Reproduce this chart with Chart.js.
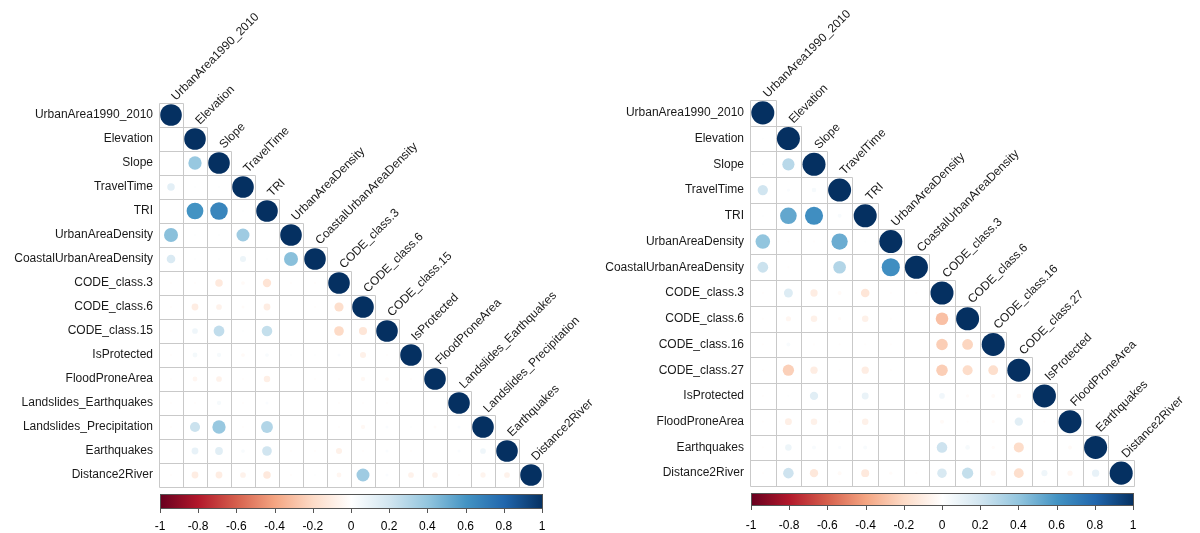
<!DOCTYPE html>
<html>
<head>
<meta charset="utf-8">
<script src="https://cdn.jsdelivr.net/npm/chart.js@4/dist/chart.umd.min.js"></script>
<style>
  html, body { margin: 0; padding: 0; background: #ffffff; }
  .panel { position: absolute; top: 0; height: 533px; }
  #leftPanel { left: 0; width: 600px; }
  #rightPanel { left: 600px; width: 600px; }
</style>
</head>
<body>
<div class="panel" id="leftPanel"><canvas id="leftChart"></canvas></div>
<div class="panel" id="rightPanel"><canvas id="rightChart"></canvas></div>
<script>
// Variables of the first correlation matrix (lower triangle, rows include the diagonal)
const leftVars = ["UrbanArea1990_2010", "Elevation", "Slope", "TravelTime", "TRI", "UrbanAreaDensity",
  "CoastalUrbanAreaDensity", "CODE_class.3", "CODE_class.6", "CODE_class.15", "IsProtected",
  "FloodProneArea", "Landslides_Earthquakes", "Landslides_Precipitation", "Earthquakes", "Distance2River"];

const leftCorr = [
  [1],
  [0.00, 1],
  [0.00, 0.38, 1],
  [0.12, 0.01, 0.01, 1],
  [0.00, 0.60, 0.66, 0.01, 1],
  [0.42, 0.01, 0.01, 0.36, 0.00, 1],
  [0.16, 0.01, 0.01, 0.08, 0.01, 0.42, 1],
  [-0.01, -0.01, -0.12, -0.03, -0.15, -0.01, -0.01, 1],
  [-0.01, -0.10, -0.07, -0.02, -0.10, 0.00, -0.01, -0.18, 1],
  [-0.01, 0.07, 0.25, 0.01, 0.24, 0.00, 0.00, -0.20, -0.14, 1],
  [-0.01, 0.05, 0.04, -0.03, 0.03, 0.01, 0.01, 0.02, -0.08, -0.01, 1],
  [-0.01, -0.05, -0.07, -0.01, -0.09, 0.00, -0.01, -0.01, -0.04, -0.03, -0.01, 1],
  [-0.01, -0.01, 0.04, -0.01, 0.02, 0.00, 0.00, -0.01, -0.01, -0.01, 0.00, 0.00, 1],
  [-0.01, 0.22, 0.38, -0.01, 0.30, 0.00, 0.00, -0.01, -0.04, 0.02, 0.01, -0.02, 0.02, 1],
  [-0.01, 0.10, 0.13, 0.03, 0.20, -0.01, -0.01, -0.08, -0.01, 0.02, -0.01, 0.00, 0.02, 0.07, 1],
  [-0.01, -0.10, -0.10, -0.07, -0.12, -0.01, 0.01, -0.05, 0.36, 0.02, -0.07, -0.07, -0.01, -0.06, -0.07, 1]
];

// Variables of the second correlation matrix
const rightVars = ["UrbanArea1990_2010", "Elevation", "Slope", "TravelTime", "TRI", "UrbanAreaDensity",
  "CoastalUrbanAreaDensity", "CODE_class.3", "CODE_class.6", "CODE_class.16", "CODE_class.27",
  "IsProtected", "FloodProneArea", "Earthquakes", "Distance2River"];

const rightCorr = [
  [1],
  [0.01, 1],
  [0.01, 0.28, 1],
  [0.20, 0.02, 0.04, 1],
  [0.01, 0.52, 0.62, 0.03, 1],
  [0.40, -0.01, -0.01, 0.50, 0.01, 1],
  [0.22, -0.01, 0.00, 0.30, 0.00, 0.62, 1],
  [-0.01, 0.15, -0.10, -0.03, -0.14, -0.01, -0.01, 1],
  [-0.01, -0.05, -0.08, -0.02, -0.08, -0.01, 0.00, -0.30, 1],
  [-0.01, 0.03, -0.01, -0.01, -0.01, -0.01, 0.00, -0.25, -0.22, 1],
  [-0.01, -0.24, -0.10, -0.01, -0.10, -0.01, 0.00, -0.25, -0.19, -0.18, 1],
  [-0.01, 0.01, 0.13, 0.00, 0.09, 0.00, 0.00, 0.06, -0.02, -0.03, -0.04, 1],
  [-0.01, -0.09, -0.08, -0.01, -0.08, 0.00, 0.00, -0.03, -0.01, -0.02, 0.13, -0.01, 1],
  [-0.01, 0.08, 0.03, 0.02, 0.03, 0.00, 0.00, 0.21, 0.04, -0.02, -0.19, 0.00, -0.03, 1],
  [-0.01, 0.21, -0.13, -0.03, -0.12, -0.02, -0.01, 0.17, 0.24, -0.05, -0.18, 0.07, -0.05, 0.10, 1]
];

// Colour bar tick values
const colorTicks = [-1, -0.8, -0.6, -0.4, -0.2, 0, 0.2, 0.4, 0.6, 0.8, 1];

// Diverging red-white-blue palette, stops spread evenly over [-1, 1]
const palette = ["#67001F", "#B2182B", "#D6604D", "#F4A582", "#FDDBC7", "#FFFFFF",
  "#D1E5F0", "#92C5DE", "#4393C3", "#2166AC", "#053061"];

const FONT = "'Liberation Sans', Arial, sans-serif";

function hexToRgb(h) {
  const n = parseInt(h.slice(1), 16);
  return [(n >> 16) & 255, (n >> 8) & 255, n & 255];
}
const paletteRgb = palette.map(hexToRgb);

function corrColor(v) {
  const t = (Math.max(-1, Math.min(1, v)) + 1) / 2 * (palette.length - 1);
  const i = Math.min(Math.floor(t), palette.length - 2);
  const f = t - i;
  const a = paletteRgb[i], b = paletteRgb[i + 1];
  const c = a.map((x, k) => Math.round(x + (b[k] - x) * f));
  return `rgb(${c[0]},${c[1]},${c[2]})`;
}

// One bubble per lower-triangle cell; circle area is proportional to |r|
function buildPoints(vars, corr, cellPx) {
  const pts = [];
  corr.forEach((row, i) => {
    row.forEach((v, j) => pts.push({
      x: vars[j], y: vars[i], v: v,
      r: 0.45 * cellPx * Math.sqrt(Math.abs(v))
    }));
  });
  return pts;
}

// Cell outlines of the lower triangle, drawn beneath the circles
const cellGrid = {
  id: 'cellGrid',
  beforeDatasetsDraw(chart) {
    const { ctx, scales: { x, y } } = chart;
    const n = chart.options.plugins.cellGrid.n;
    const cw = x.width / n, ch = y.height / n;
    const xe = [], ye = [];
    for (let k = 0; k <= n; k++) {
      xe.push(Math.round(x.getPixelForValue(0) - cw / 2 + k * cw) + 0.5);
      ye.push(Math.round(y.getPixelForValue(0) - ch / 2 + k * ch) + 0.5);
    }
    ctx.save();
    ctx.strokeStyle = '#c9c9c9';
    ctx.lineWidth = 1;
    ctx.beginPath();
    for (let k = 0; k <= n; k++) {
      // horizontal edge k closes the cells of rows k-1 and k (columns 0..k)
      ctx.moveTo(xe[0], ye[k]); ctx.lineTo(xe[Math.min(k + 1, n)], ye[k]);
      // vertical edge k bounds columns k-1 and k (rows k-1..n-1)
      ctx.moveTo(xe[k], ye[Math.max(k - 1, 0)]); ctx.lineTo(xe[k], ye[n]);
    }
    ctx.stroke();
    ctx.restore();
  }
};

// Rotated variable names along the diagonal, plus the colour bar legend
const diagAndBar = {
  id: 'diagAndBar',
  afterDraw(chart) {
    const { ctx, scales: { x, y }, chartArea } = chart;
    const opts = chart.options.plugins.diagAndBar;
    const vars = opts.labels;
    const n = vars.length;
    const ch = y.height / n;
    ctx.save();
    ctx.fillStyle = '#1a1a1a';
    ctx.font = `12px ${FONT}`;
    ctx.textAlign = 'left';
    ctx.textBaseline = 'alphabetic';
    vars.forEach((name, i) => {
      const cx = x.getPixelForValue(i);
      const top = y.getPixelForValue(i) - ch / 2;
      ctx.save();
      ctx.translate(cx + 5, top - 2);
      ctx.rotate(-Math.PI / 4);
      ctx.fillText(name, 0, 0);
      ctx.restore();
    });

    // colour bar
    const left = chartArea.left + 1, right = chartArea.right;
    const barTop = chartArea.bottom + opts.barGap;
    const barH = opts.barHeight;
    const grad = ctx.createLinearGradient(left, 0, right, 0);
    palette.forEach((c, k) => grad.addColorStop(k / (palette.length - 1), c));
    ctx.fillStyle = grad;
    ctx.fillRect(left, barTop, right - left, barH);
    ctx.strokeStyle = '#555';
    ctx.lineWidth = 1;
    ctx.strokeRect(left + 0.5, barTop + 0.5, right - left - 1, barH - 1);

    ctx.fillStyle = '#000';
    ctx.textAlign = 'center';
    ctx.textBaseline = 'middle';
    colorTicks.forEach(t => {
      const px = left + (t + 1) / 2 * (right - left - 1);
      ctx.beginPath();
      ctx.moveTo(Math.round(px) + 0.5, barTop + barH);
      ctx.lineTo(Math.round(px) + 0.5, barTop + barH + 4);
      ctx.stroke();
      ctx.fillText(String(t), px, barTop + barH + opts.labelGap);
    });
    ctx.restore();
  }
};

function makeCorrChart(canvasId, vars, corr, area) {
  const n = vars.length;
  return new Chart(document.getElementById(canvasId), {
    type: 'bubble',
    data: {
      datasets: [{
        data: buildPoints(vars, corr, area.width / n),
        borderWidth: 0,
        backgroundColor: c => corrColor(c.raw ? c.raw.v : 0),
        hoverRadius: 0
      }]
    },
    options: {
      responsive: true,
      maintainAspectRatio: false,
      animation: false,
      events: [],
      layout: { padding: { left: 0, top: area.top, right: area.right, bottom: area.bottom } },
      plugins: {
        legend: { display: false },
        tooltip: { enabled: false },
        cellGrid: { n: n },
        diagAndBar: { labels: vars, barGap: area.barGap, barHeight: area.barHeight, labelGap: area.labelGap }
      },
      scales: {
        x: { type: 'category', labels: vars, offset: true, display: false },
        y: {
          type: 'category',
          labels: vars,
          offset: true,
          grid: { display: false, drawTicks: false },
          border: { display: false },
          ticks: { color: '#1a1a1a', font: { family: FONT, size: 12 }, padding: 6, autoSkip: false },
          afterFit: s => { s.width = area.left; }
        }
      }
    },
    plugins: [cellGrid, diagAndBar]
  });
}

makeCorrChart('leftChart', leftVars, leftCorr,
  { left: 159, width: 384, top: 103, right: 57, bottom: 46, barGap: 7, barHeight: 15, labelGap: 18 });
makeCorrChart('rightChart', rightVars, rightCorr,
  { left: 150, width: 384, top: 100, right: 66, bottom: 47, barGap: 7, barHeight: 13, labelGap: 20 });
</script>
</body>
</html>
